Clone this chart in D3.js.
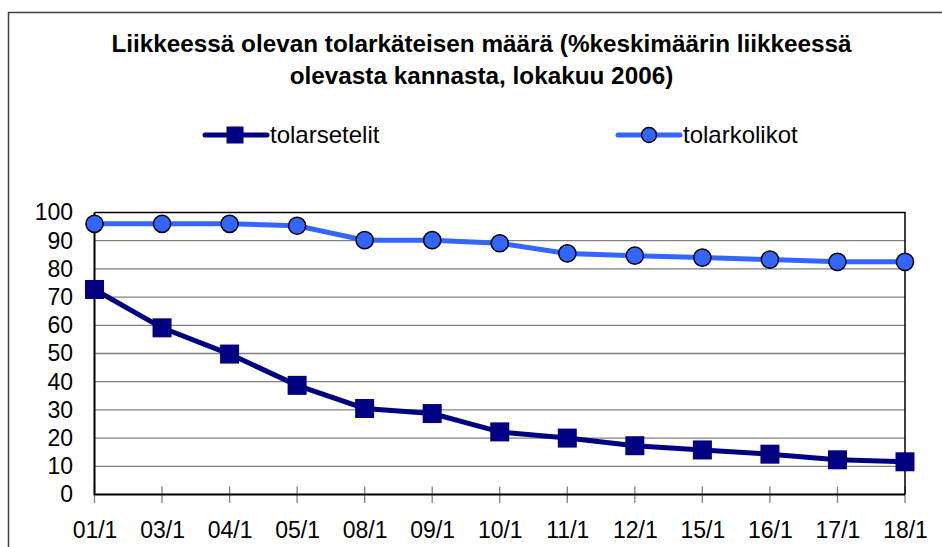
<!DOCTYPE html>
<html lang="fi">
<head>
    <meta charset="UTF-8">
    <title>Liikkeessä olevan tolarkäteisen määrä</title>
    <style>
        body { margin: 0; background: #fff; }
        svg { display: block; font-family: "Liberation Sans", Arial, sans-serif; }
        .grid line { stroke: #808080; stroke-width: 1.3; }
        .axis text { font-family: "Liberation Sans", Arial, sans-serif; font-size: 23px; fill: #000; }
    </style>
</head>
<body>
<div id="chart"></div>
<script src="https://d3js.org/d3.v7.min.js"></script>
<script>
    // data
    var categories = ["01/1","03/1","04/1","05/1","08/1","09/1","10/1","11/1","12/1","15/1","16/1","17/1","18/1"];
    var setelit = [72.7, 59.1, 49.8, 38.7, 30.5, 28.7, 22.2, 20.0, 17.3, 15.8, 14.3, 12.3, 11.6];
    var kolikot = [96.0, 96.0, 96.0, 95.3, 90.2, 90.2, 89.1, 85.5, 84.7, 84.0, 83.3, 82.5, 82.5];
    var yTicks = [0, 10, 20, 30, 40, 50, 60, 70, 80, 90, 100];
    var titleLines = ["Liikkeessä olevan tolarkäteisen määrä (%keskimäärin liikkeessä",
                      "olevasta kannasta, lokakuu 2006)"];
    var seriesNames = ["tolarsetelit", "tolarkolikot"];

    var W = 942, H = 547;
    var plot = {left: 94.5, top: 212.5, right: 905, bottom: 494.5};
    var navy = "#000080", blue = "#3366ff";

    var svg = d3.select("#chart").append("svg")
        .attr("width", W)
        .attr("height", H);

    // outer chart frame (runs past the right/bottom edge)
    svg.append("rect")
        .attr("x", 8.5).attr("y", 12.5)
        .attr("width", 980).attr("height", 600)
        .attr("fill", "none")
        .attr("stroke", "#404040")
        .attr("stroke-width", 1.5);

    // title
    svg.append("g").selectAll("text")
        .data(titleLines)
        .enter().append("text")
        .attr("x", 481.5)
        .attr("y", (d, i) => 51.5 + i * 32)
        .attr("text-anchor", "middle")
        .style("font-size", "24.3px")
        .style("font-weight", "bold")
        .text(d => d);

    var x = d3.scalePoint().domain(categories).range([plot.left, plot.right]);
    var y = d3.scaleLinear().domain([0, 100]).range([plot.bottom, plot.top]);

    // gridlines
    svg.append("g").attr("class", "grid")
        .selectAll("line")
        .data(yTicks.filter(d => d > 0 && d < 100))
        .enter().append("line")
        .attr("x1", plot.left).attr("x2", plot.right)
        .attr("y1", d => y(d)).attr("y2", d => y(d));

    // cross tick marks on the category axis
    svg.append("g")
        .selectAll("line")
        .data(categories)
        .enter().append("line")
        .attr("x1", d => x(d)).attr("x2", d => x(d))
        .attr("y1", plot.bottom - 8).attr("y2", plot.bottom + 8.5)
        .attr("stroke", "#808080")
        .attr("stroke-width", 1.3);

    // plot border: top + right thin, axes thicker
    svg.append("path")
        .attr("d", `M${plot.left},${plot.top}H${plot.right}V${plot.bottom}`)
        .attr("fill", "none").attr("stroke", "#000").attr("stroke-width", 1.5);
    svg.append("path")
        .attr("d", `M${plot.left},${plot.top}V${plot.bottom}H${plot.right}`)
        .attr("fill", "none").attr("stroke", "#000").attr("stroke-width", 2);

    // y axis labels
    var yAxis = d3.axisLeft(y).tickValues(yTicks).tickSize(0).tickPadding(21.5);
    svg.append("g").attr("class", "axis")
        .attr("transform", `translate(${plot.left},0)`)
        .call(yAxis)
        .call(g => g.select(".domain").remove());

    // x axis labels
    var xAxis = d3.axisBottom(x).tickSize(0).tickPadding(27);
    svg.append("g").attr("class", "axis")
        .attr("transform", `translate(0,${plot.bottom})`)
        .call(xAxis)
        .call(g => g.select(".domain").remove());

    var line = d3.line()
        .x((d, i) => x(categories[i]))
        .y(d => y(d));

    // tolarkolikot
    svg.append("path")
        .datum(kolikot)
        .attr("d", line)
        .attr("fill", "none")
        .attr("stroke", blue)
        .attr("stroke-width", 5);
    svg.append("g").selectAll("circle")
        .data(kolikot)
        .enter().append("circle")
        .attr("cx", (d, i) => x(categories[i]))
        .attr("cy", d => y(d))
        .attr("r", 8.6)
        .attr("fill", blue)
        .attr("stroke", "#000")
        .attr("stroke-width", 1.5);

    // tolarsetelit
    svg.append("path")
        .datum(setelit)
        .attr("d", line)
        .attr("fill", "none")
        .attr("stroke", navy)
        .attr("stroke-width", 5);
    svg.append("g").selectAll("rect")
        .data(setelit)
        .enter().append("rect")
        .attr("x", (d, i) => x(categories[i]) - 9.5)
        .attr("y", d => y(d) - 9.5)
        .attr("width", 19)
        .attr("height", 19)
        .attr("fill", navy);

    // legend
    var legend = [
        {name: seriesNames[0], x0: 205, color: navy, mark: "square"},
        {name: seriesNames[1], x0: 618, color: blue, mark: "circle"}
    ];
    var lg = svg.append("g").selectAll("g")
        .data(legend)
        .enter().append("g")
        .attr("transform", d => `translate(${d.x0},135)`);
    lg.append("line")
        .attr("x1", 0).attr("x2", 62)
        .attr("stroke", d => d.color)
        .attr("stroke-width", 5)
        .attr("stroke-linecap", "round");
    lg.filter(d => d.mark === "square").append("rect")
        .attr("x", 30 - 8.5).attr("y", -8.5)
        .attr("width", 17).attr("height", 17)
        .attr("fill", navy);
    lg.filter(d => d.mark === "circle").append("circle")
        .attr("cx", 31).attr("r", 7.5)
        .attr("fill", blue)
        .attr("stroke", "#000")
        .attr("stroke-width", 1.5);
    lg.append("text")
        .attr("x", 65)
        .attr("y", 8)
        .style("font-size", "24px")
        .text(d => d.name);
</script>
</body>
</html>
